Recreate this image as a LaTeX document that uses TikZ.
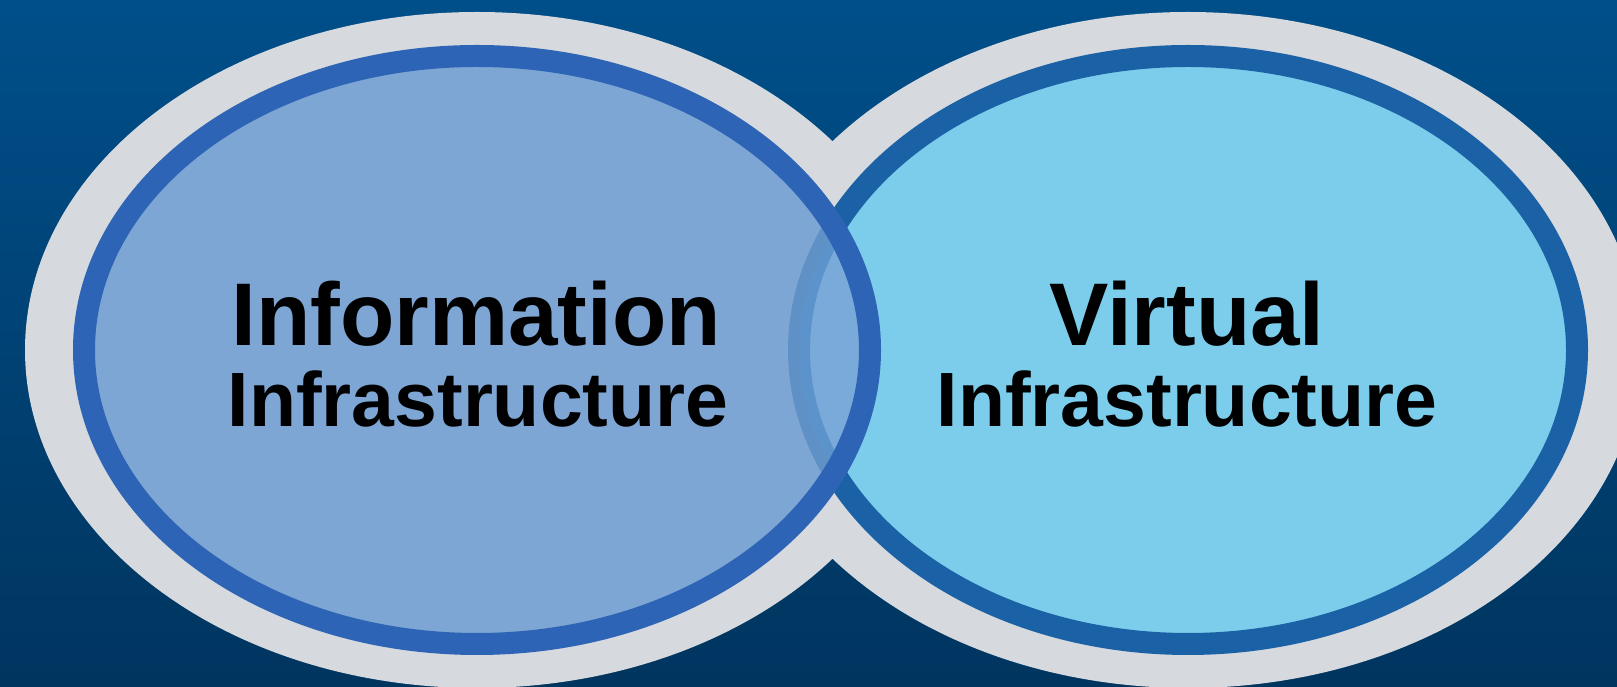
\documentclass[tikz,border=0pt]{standalone}
\usepackage{fontspec}
\setmainfont{Liberation Sans}
\definecolor{bgtop}{RGB}{0,79,138}
\definecolor{bgbot}{RGB}{0,53,95}
\definecolor{ringgrey}{RGB}{214,217,221}
\definecolor{leftfill}{RGB}{126,166,212}
\definecolor{leftedge}{RGB}{46,100,181}
\definecolor{rightfill}{RGB}{124,205,236}
\definecolor{rightedge}{RGB}{27,97,166}
\definecolor{overlapfill}{RGB}{121,170,218}
\tikzset{
  bigtext/.style={anchor=base, inner sep=0pt, font=\bfseries\fontsize{89}{89}\selectfont},
  smalltext/.style={anchor=base, inner sep=0pt, font=\bfseries\fontsize{77}{77}\selectfont},
}
\begin{document}
\begin{tikzpicture}[x=1pt,y=1pt]
\useasboundingbox (0,0) rectangle (1617,687);
\shade[top color=bgtop, bottom color=bgbot] (0,0) rectangle (1617,687);
% grey outer rings
\fill[ringgrey] (477,337) ellipse [x radius=452, y radius=338];
\fill[ringgrey] (1188,337) ellipse [x radius=452, y radius=338];
% right circle
\fill[rightfill] (1188,337) ellipse [x radius=389, y radius=294];
\draw[rightedge, line width=22pt] (1188,337) ellipse [x radius=389, y radius=294];
% left circle fill
\fill[leftfill] (477,337) ellipse [x radius=393, y radius=294];
% overlap
\begin{scope}
  \clip (1188,337) ellipse [x radius=389, y radius=294];
  \fill[overlapfill] (477,337) ellipse [x radius=393, y radius=294];
\end{scope}
\begin{scope}
  \clip (477,337) ellipse [x radius=393, y radius=294];
  \draw[rightedge, line width=22pt, opacity=0.3] (1188,337) ellipse [x radius=389, y radius=294];
\end{scope}
\draw[leftedge, line width=22pt] (477,337) ellipse [x radius=393, y radius=294];
% texts
\node[bigtext] (info) at (476,341) {Information};
\node[smalltext] (infra1) at (478,260) {Infrastructure};
\node[bigtext] (virt) at (1187,341) {Virtual};
\node[smalltext] (infra2) at (1187,260) {Infrastructure};
\end{tikzpicture}
\end{document}
